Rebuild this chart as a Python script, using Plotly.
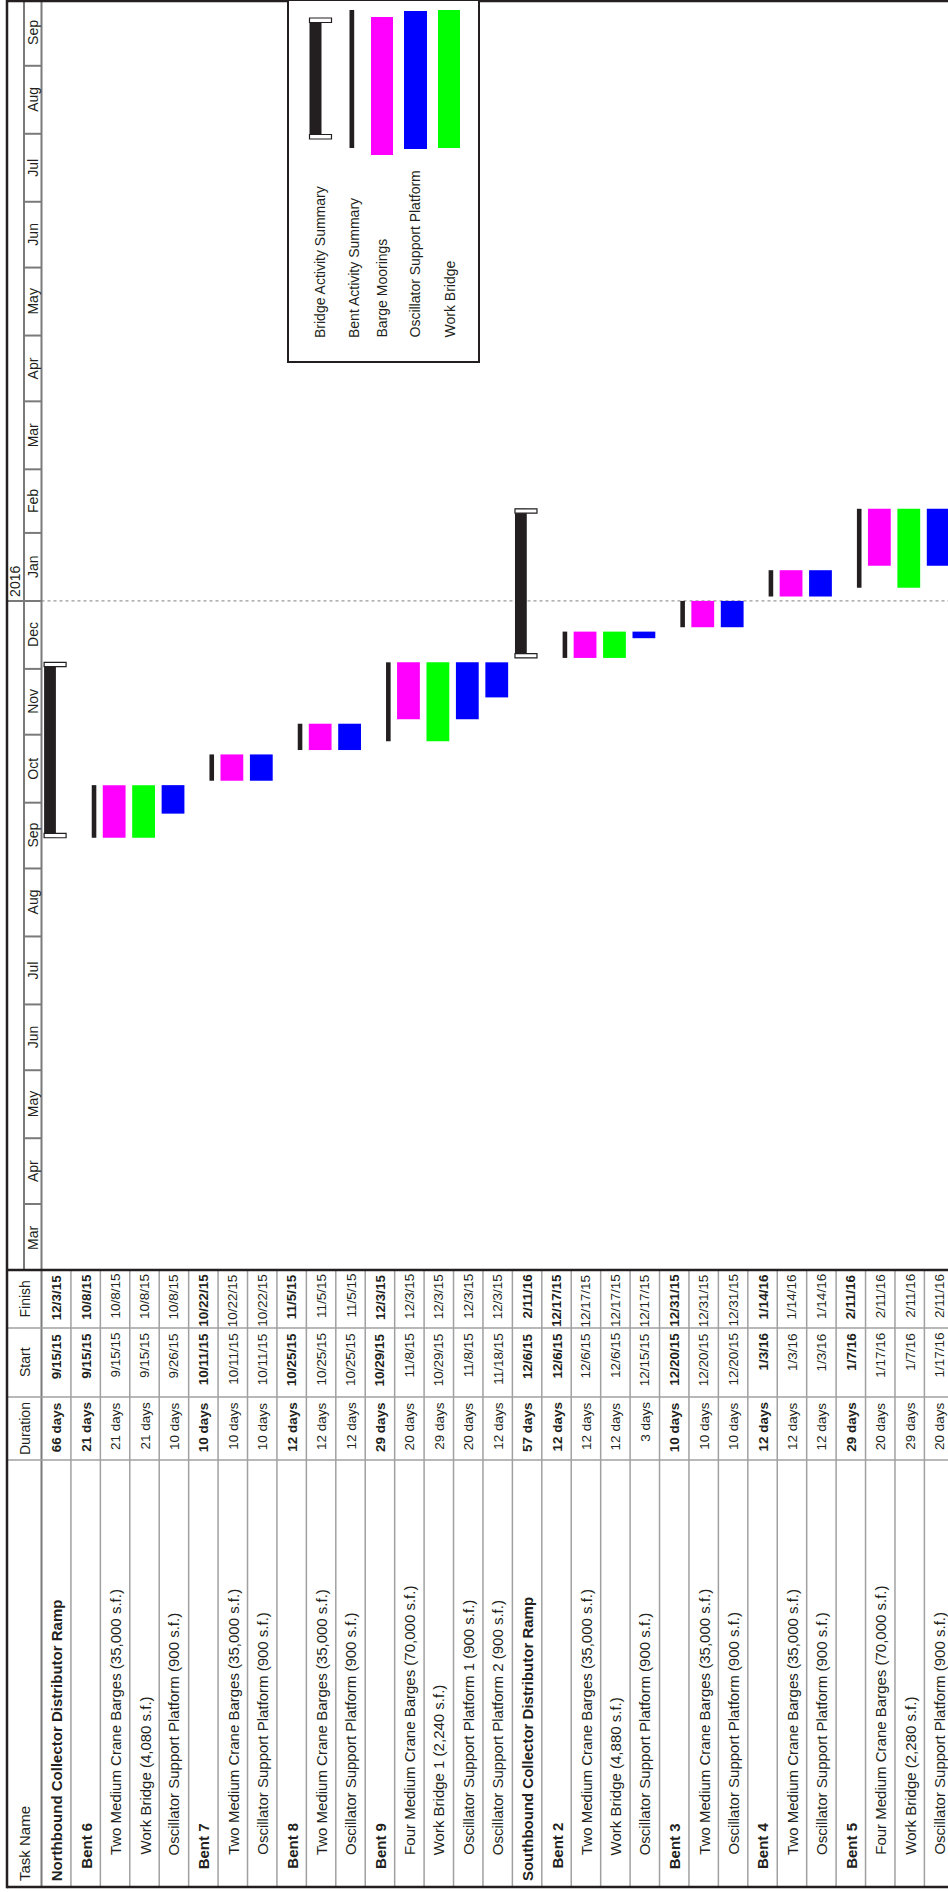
import plotly.graph_objects as go
from datetime import datetime, timedelta

# ---------------- data ----------------
task_names = [
    "Northbound Collector Distributor Ramp",
    "Bent 6",
    "Two Medium Crane Barges (35,000 s.f.)",
    "Work Bridge (4,080 s.f.)",
    "Oscillator Support Platform (900 s.f.)",
    "Bent 7",
    "Two Medium Crane Barges (35,000 s.f.)",
    "Oscillator Support Platform (900 s.f.)",
    "Bent 8",
    "Two Medium Crane Barges (35,000 s.f.)",
    "Oscillator Support Platform (900 s.f.)",
    "Bent 9",
    "Four Medium Crane Barges (70,000 s.f.)",
    "Work Bridge 1 (2,240 s.f.)",
    "Oscillator Support Platform 1 (900 s.f.)",
    "Oscillator Support Platform 2 (900 s.f.)",
    "Southbound Collector Distributor Ramp",
    "Bent 2",
    "Two Medium Crane Barges (35,000 s.f.)",
    "Work Bridge (4,880 s.f.)",
    "Oscillator Support Platform (900 s.f.)",
    "Bent 3",
    "Two Medium Crane Barges (35,000 s.f.)",
    "Oscillator Support Platform (900 s.f.)",
    "Bent 4",
    "Two Medium Crane Barges (35,000 s.f.)",
    "Oscillator Support Platform (900 s.f.)",
    "Bent 5",
    "Four Medium Crane Barges (70,000 s.f.)",
    "Work Bridge (2,280 s.f.)",
    "Oscillator Support Platform (900 s.f.)",
]
levels = [0, 1, 2, 2, 2, 1, 2, 2, 1, 2, 2, 1, 2, 2, 2, 2,
          0, 1, 2, 2, 2, 1, 2, 2, 1, 2, 2, 1, 2, 2, 2]
durations = ["66 days", "21 days", "21 days", "21 days", "10 days",
             "10 days", "10 days", "10 days", "12 days", "12 days", "12 days",
             "29 days", "20 days", "29 days", "20 days", "12 days",
             "57 days", "12 days", "12 days", "12 days", "3 days",
             "10 days", "10 days", "10 days", "12 days", "12 days", "12 days",
             "29 days", "20 days", "29 days", "20 days"]
starts = ["9/15/15", "9/15/15", "9/15/15", "9/15/15", "9/26/15",
          "10/11/15", "10/11/15", "10/11/15", "10/25/15", "10/25/15", "10/25/15",
          "10/29/15", "11/8/15", "10/29/15", "11/8/15", "11/18/15",
          "12/6/15", "12/6/15", "12/6/15", "12/6/15", "12/15/15",
          "12/20/15", "12/20/15", "12/20/15", "1/3/16", "1/3/16", "1/3/16",
          "1/7/16", "1/17/16", "1/7/16", "1/17/16"]
finishes = ["12/3/15", "10/8/15", "10/8/15", "10/8/15", "10/8/15",
            "10/22/15", "10/22/15", "10/22/15", "11/5/15", "11/5/15", "11/5/15",
            "12/3/15", "12/3/15", "12/3/15", "12/3/15", "12/3/15",
            "2/11/16", "12/17/15", "12/17/15", "12/17/15", "12/17/15",
            "12/31/15", "12/31/15", "12/31/15", "1/14/16", "1/14/16", "1/14/16",
            "2/11/16", "2/11/16", "2/11/16", "2/11/16"]
bar_kinds = ["bridge", "bent", "barge", "work", "osc",
             "bent", "barge", "osc", "bent", "barge", "osc",
             "bent", "barge", "work", "osc", "osc",
             "bridge", "bent", "barge", "work", "osc",
             "bent", "barge", "osc", "bent", "barge", "osc",
             "bent", "barge", "work", "osc"]
month_names = ["Mar", "Apr", "May", "Jun", "Jul", "Aug", "Sep", "Oct", "Nov", "Dec",
               "Jan", "Feb", "Mar", "Apr", "May", "Jun", "Jul", "Aug", "Sep"]
column_headers = ["Task Name", "Duration", "Start", "Finish"]
legend_names = ["Bridge Activity Summary", "Bent Activity Summary", "Barge Moorings",
                "Oscillator Support Platform", "Work Bridge"]

# ---------------- styles / geometry ----------------
W, H = 948, 1892
DARK = "#231f20"
GRID = "#a0a0a0"
MGREY = "#7a7a7a"
FONT = "Liberation Sans, Arial, Helvetica, sans-serif"
COLORS = {"barge": "#ff00ff", "work": "#00ff00", "osc": "#0000ff",
          "bent": DARK, "bridge": DARK}
ROW0, ROWW = 41.5, 29.43
CHART_BOT = 1272
TAB_TOP, TAB_BOT = 1270, 1887
C_FIN, C_START, C_DUR = 1328, 1397, 1460
TFS = 15     # task-name font size
VFS = 13.5   # value-column font size


def px(x):
    return x / W


def py(y):
    return 1 - y / H


def pdate(s):
    m, d, y = s.split("/")
    return datetime(2000 + int(y), int(m), int(d))


DAY_MS = 86400000

fig = go.Figure()

geom = {  # left offset, width (pixels within a row)
    "barge": (2.4, 22.8), "work": (2.4, 22.8), "osc": (2.4, 22.8),
    "bent": (20.8, 4.6), "bridge": (2.6, 11.8),
}
for kind in ["bridge", "bent", "barge", "work", "osc"]:
    xs, bases, lens = [], [], []
    for i, k in enumerate(bar_kinds):
        if k != kind:
            continue
        s = pdate(starts[i])
        e = pdate(finishes[i]) + timedelta(days=1)
        xs.append(i)
        bases.append(s.strftime("%Y-%m-%d"))
        lens.append((e - s).days * DAY_MS)
    off, wd = geom[kind]
    fig.add_trace(go.Bar(
        x=xs, y=lens, base=bases, offset=off / ROWW, width=wd / ROWW,
        marker=dict(color=COLORS[kind], line=dict(width=0)),
        hoverinfo="skip", showlegend=False))

# summary end caps
cap_x, cap_base, cap_len = [], [], []
for i, k in enumerate(bar_kinds):
    if k != "bridge":
        continue
    s = pdate(starts[i])
    e = pdate(finishes[i]) + timedelta(days=1)
    for b in (s, e - timedelta(days=2)):
        cap_x.append(i)
        cap_base.append(b.strftime("%Y-%m-%d"))
        cap_len.append(2 * DAY_MS)
fig.add_trace(go.Bar(
    x=cap_x, y=cap_len, base=cap_base, offset=2.6 / ROWW, width=22 / ROWW,
    marker=dict(color="white", line=dict(width=1.2, color=DARK)),
    hoverinfo="skip", showlegend=False))

shapes = []
ann = []


def line(x0, y0, x1, y1, color, width, dash=None, xref="paper", yref="paper"):
    d = dict(type="line", x0=x0, y0=y0, x1=x1, y1=y1, xref=xref, yref=yref,
             line=dict(color=color, width=width), layer="above")
    if dash:
        d["line"]["dash"] = dash
        d["layer"] = "below"
    shapes.append(d)


def text(x, y, t, size, xanchor="center", yanchor="middle", yref="paper", yshift=0):
    ann.append(dict(x=x, y=y, xref="paper", yref=yref, text=t, textangle=-90,
                    showarrow=False, xanchor=xanchor, yanchor=yanchor, yshift=yshift,
                    borderpad=0,
                    font=dict(family=FONT, size=size, color="#231f20")))


# dotted status line at 1 Jan 2016
line(px(ROW0), "2016-01-01", px(W), "2016-01-01", "#808080", 1, dash="dot", yref="y")

# timescale strips
line(px(24), py(0), px(24), py(TAB_TOP), MGREY, 2)
line(px(ROW0), py(0), px(ROW0), py(TAB_BOT), MGREY, 2)
month_starts = []
yy, mm = 2015, 3
for _ in range(len(month_names) + 1):
    month_starts.append(datetime(yy, mm, 1))
    mm += 1
    if mm > 12:
        mm, yy = 1, yy + 1
for j, name in enumerate(month_names):
    a, b = month_starts[j], month_starts[j + 1]
    if j > 0:
        x0 = 7 if a.month == 1 else 24
        line(px(x0), a.strftime("%Y-%m-%d"), px(ROW0), a.strftime("%Y-%m-%d"),
             MGREY, 2, yref="y")
    mid = a + (b - a) / 2
    text(px(33), mid.strftime("%Y-%m-%d %H:%M"), name, 14, yref="y")
    if a.month == 1:
        text(px(15.5), a.strftime("%Y-%m-%d"), str(a.year), 14,
             yanchor="bottom", yref="y", yshift=3)

# table grid
n = len(task_names)
for k in range(1, n + 1):
    xk = ROW0 + k * ROWW
    line(px(xk), py(TAB_TOP), px(xk), py(TAB_BOT), GRID, 1.5)
for yc in (C_FIN, C_START, C_DUR):
    line(px(7), py(yc), px(W), py(yc), GRID, 1.5)

# table text
for i in range(n):
    xc = px(ROW0 + (i + 0.5) * ROWW)
    bold = levels[i] < 2
    wrap = (lambda t: "<b>%s</b>" % t) if bold else (lambda t: t)
    indent = [0, 12, 26][levels[i]]
    text(xc, py(TAB_BOT - 5 - indent), wrap(task_names[i]), TFS, yanchor="bottom")
    text(xc, py(C_START + 4), wrap(durations[i]), VFS, yanchor="top")
    text(xc, py(C_FIN + 4), wrap(starts[i]), VFS, yanchor="top")
    text(xc, py(TAB_TOP + 3), wrap(finishes[i]), VFS, yanchor="top")

hx = px(24.5)
text(hx, py(TAB_BOT - 5), column_headers[0], TFS, yanchor="bottom")
for txt, (a, b) in zip(column_headers[1:], [(C_START, C_DUR), (C_FIN, C_START),
                                            (TAB_TOP, C_FIN)]):
    text(hx, py((a + b) / 2), txt, 14)

# frame
line(px(7), py(0), px(7), py(TAB_BOT + 1.2), DARK, 2.5)
line(px(7), py(1), px(W), py(1), DARK, 2.5)
line(px(7), py(TAB_BOT), px(W), py(TAB_BOT), DARK, 2.5)
line(px(7), py(TAB_TOP), px(W), py(TAB_TOP), DARK, 2.5)

# legend box
shapes.append(dict(type="rect", xref="paper", yref="paper", x0=px(288), x1=px(479),
                   y0=py(0), y1=py(362), line=dict(color=DARK, width=2),
                   fillcolor="white", layer="above"))


def rect(x0, x1, y0, y1, fill, lc=None, lw=0):
    shapes.append(dict(type="rect", xref="paper", yref="paper", x0=px(x0), x1=px(x1),
                       y0=py(y0), y1=py(y1), fillcolor=fill,
                       line=dict(color=lc or fill, width=lw), layer="above"))


rect(309.5, 321.5, 18, 139, DARK)
rect(309.5, 331.5, 18, 22.5, "white", DARK, 1.2)
rect(309.5, 331.5, 134.5, 139, "white", DARK, 1.2)
rect(349.5, 354.2, 10, 148, DARK)
rect(371, 393, 17, 155, COLORS["barge"])
rect(404, 427, 11, 149, COLORS["osc"])
rect(438, 460, 10, 148, COLORS["work"])
for name, xc in zip(legend_names, [320, 354, 382, 415, 450]):
    text(px(xc), py(339), name, 14, yanchor="bottom")

fig.update_layout(
    width=W, height=H, margin=dict(l=0, r=0, t=0, b=0),
    paper_bgcolor="white", plot_bgcolor="white",
    barmode="overlay", showlegend=False,
    xaxis=dict(range=[-ROW0 / ROWW, (W - ROW0) / ROWW], domain=[0, 1],
               showgrid=False, zeroline=False, showticklabels=False, ticks="",
               showline=False, fixedrange=True),
    yaxis=dict(type="date", range=["2015-03-01", "2016-10-01"],
               domain=[1 - CHART_BOT / H, 1],
               showgrid=False, zeroline=False, showticklabels=False, ticks="",
               showline=False, fixedrange=True),
    shapes=shapes, annotations=ann,
)
fig.write_html("out.html")
